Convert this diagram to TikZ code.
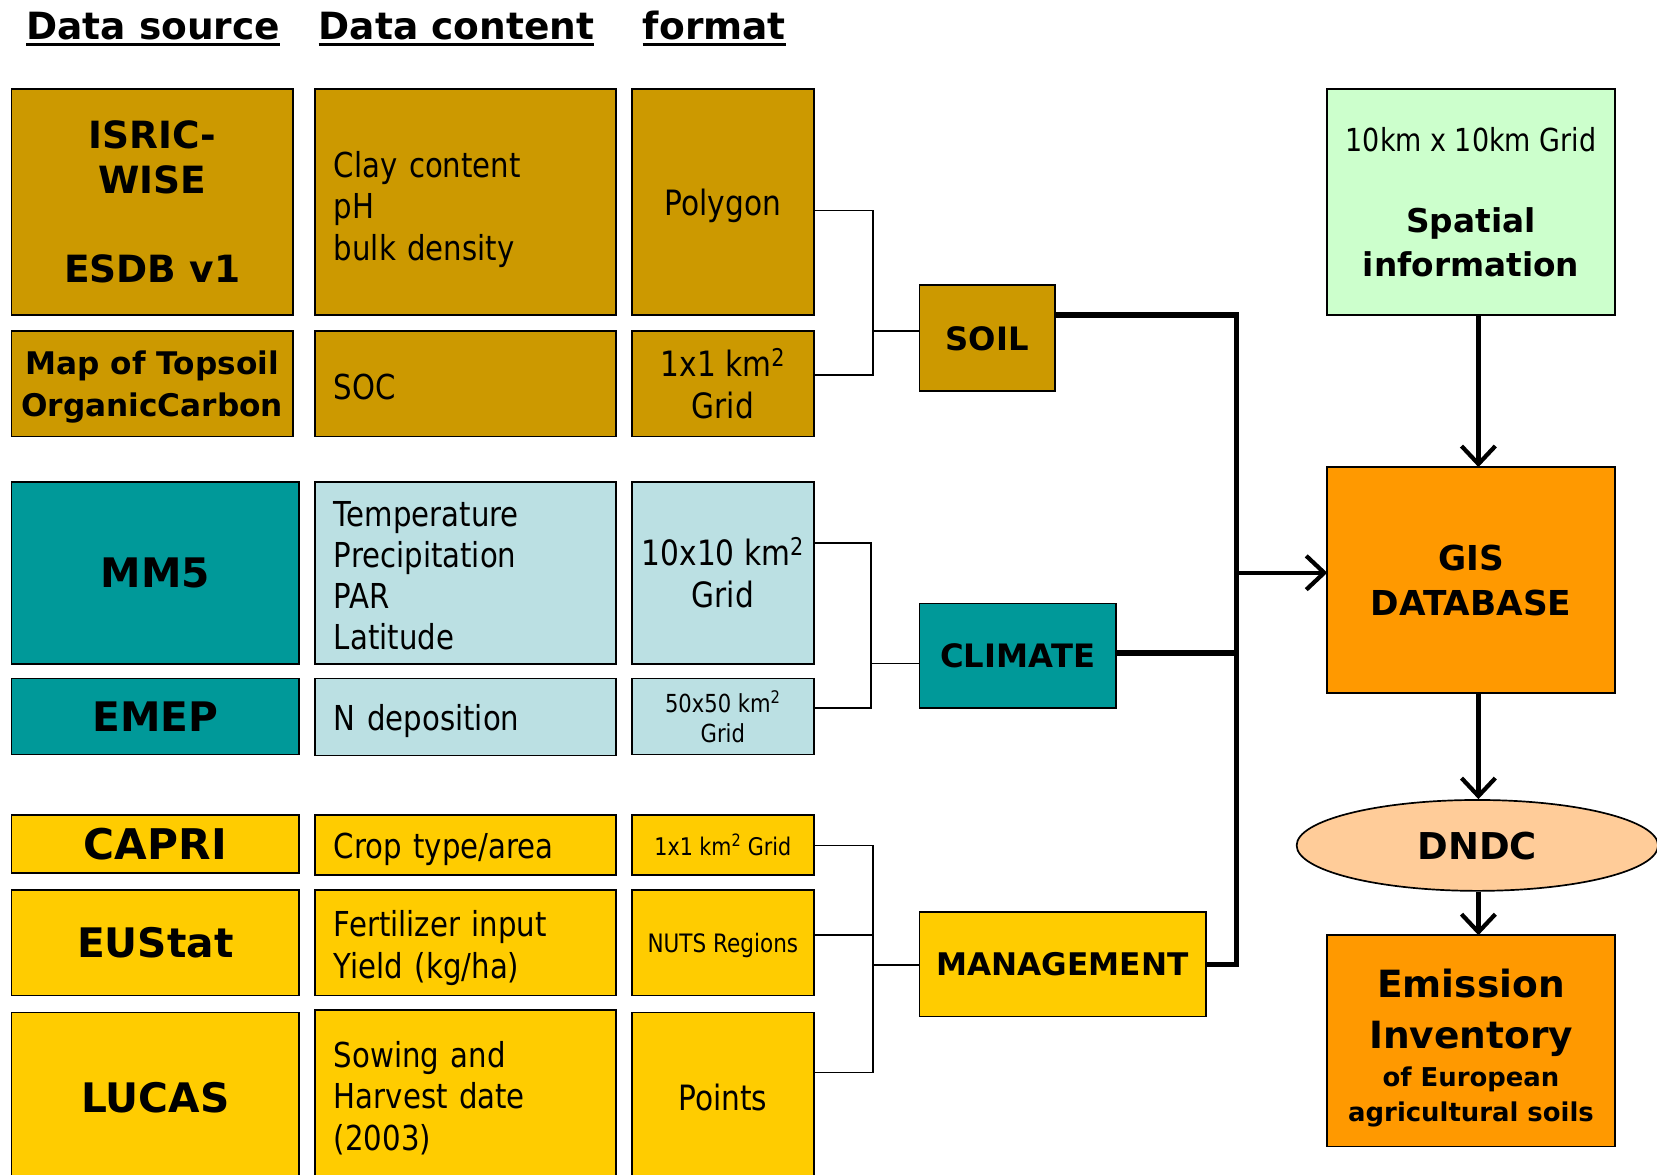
\documentclass[tikz,border=0pt]{standalone}
\usepackage{fontspec}
\setmainfont{DejaVu Sans}
\newfontfamily\rgfam[FakeStretch=0.85]{DejaVu Sans}
\newcommand\rg{\rgfam\mdseries}
\usetikzlibrary{shapes.geometric,arrows.meta}
\definecolor{soilc}{HTML}{CC9900}
\definecolor{tealc}{HTML}{009999}
\definecolor{lblue}{HTML}{BBE0E3}
\definecolor{yell}{HTML}{FFCC00}
\definecolor{lgreen}{HTML}{CCFFCC}
\definecolor{orng}{HTML}{FF9900}
\definecolor{peach}{HTML}{FFCC99}
\newcommand\fs[2]{\fontsize{#1}{#2}\selectfont}
\newcommand\tp[1]{\rule{0pt}{#1pt}}
\newcommand\bxn[7]{\node[box,#6,minimum width={(#4-#2)*1pt},minimum height={(#5-#3)*1pt}] (#1) at ({(#2+#4)/2},{(#3+#5)/2}) {#7};}
\begin{document}
\begin{tikzpicture}[x=1pt,y=-1pt,
  box/.style={draw=black,line width=1.6pt,inner sep=0pt,outer sep=0pt},
  src/.style={align=center,text depth=0pt,font={\bfseries\fs{38.5}{46}}},
  cnt/.style={align=left,text width=249pt,font={\rg\fs{32.5}{39}}},
  fmt/.style={align=center,text depth=0pt,font={\rg\fs{33}{40}}},
  hdr/.style={inner sep=0pt,font={\bfseries\fs{35.5}{42}}},
  uline/.style={line width=2.8pt},
  thinc/.style={line width=1.5pt},
  bus/.style={line width=5pt,line join=miter},
  arr/.style={line width=4pt,-{Straight Barb[length=17pt,width=32pt]}}
]
\useasboundingbox (0,0) rectangle (1568,1111);

% headers
\node[hdr,anchor=base] (h1) at (145,37) {Data source};
\node[hdr,anchor=base] (h2) at (432,37) {Data content};
\node[hdr,anchor=base] (h3) at (676,37) {format};
\foreach \h in {h1,h2,h3}
  \draw[uline] ([yshift=-5pt]\h.base west) -- ([yshift=-5pt]\h.base east);

% soil rows
\bxn{s1}{11}{84}{277}{298}{fill=soilc,align=center,text depth=0pt,font={\bfseries\fs{35.5}{42}}}{ISRIC-\\WISE\\[43pt]ESDB v1}
\bxn{c1}{298}{84}{583}{298}{fill=soilc,cnt}{\tp{39}Clay content\\pH\\bulk density}
\bxn{f1}{598}{84}{770}{298}{fill=soilc,fmt}{Polygon}
\bxn{s2}{11}{313}{277}{413}{fill=soilc,align=center,text depth=0pt,font={\bfseries\fs{29.5}{40}}}{Map of Topsoil\\OrganicCarbon}
\bxn{c2}{298}{313}{583}{413}{fill=soilc,cnt}{\tp{31}SOC}
\bxn{f2}{598}{313}{770}{413}{fill=soilc,fmt}{1x1 km\textsuperscript{2}\\Grid}

% climate rows
\bxn{s3}{11}{456}{283}{628}{fill=tealc,src}{MM5}
\bxn{c3}{298}{456}{583}{628}{fill=lblue,cnt}{\tp{29}Temperature\\Precipitation\\PAR\\Latitude}
\bxn{f3}{598}{456}{770}{628}{fill=lblue,fmt}{10x10 km\textsuperscript{2}\\Grid}
\bxn{s4}{11}{642}{283}{714}{fill=tealc,src}{EMEP}
\bxn{c4}{298}{642}{583}{715}{fill=lblue,cnt}{\tp{33}N deposition}
\bxn{f4}{598}{642}{770}{714}{fill=lblue,align=center,text depth=0pt,font={\rg\fs{23.5}{28}}}{50x50 km\textsuperscript{2}\\Grid}

% management rows
\bxn{s5}{11}{771}{283}{826}{fill=yell,src,font={\bfseries\fs{40}{46}}}{CAPRI}
\bxn{c5}{298}{771}{583}{828}{fill=yell,cnt}{\tp{33}Crop type/area}
\bxn{f5}{598}{771}{770}{828}{fill=yell,align=center,text depth=0pt,font={\rg\fs{23}{28}}}{1x1 km\textsuperscript{2} Grid}
\bxn{s6}{11}{842}{283}{942}{fill=yell,src}{EUStat}
\bxn{c6}{298}{842}{583}{942}{fill=yell,cnt,font={\rg\fs{32.5}{40}}}{\tp{35}Fertilizer input\\Yield (kg/ha)}
\bxn{f6}{598}{842}{770}{942}{fill=yell,align=center,text depth=0pt,font={\rg\fs{24}{28}}}{NUTS Regions}
\bxn{s7}{11}{958}{283}{1118}{fill=yell,src}{LUCAS}
\bxn{c7}{298}{956}{583}{1118}{fill=yell,cnt}{\tp{29}Sowing and\\Harvest date\\(2003)}
\bxn{f7}{598}{958}{770}{1118}{fill=yell,fmt}{Points}

% category boxes
\bxn{soil}{870}{270}{998}{370}{fill=soilc,text depth=0pt,font={\bfseries\fs{30.5}{36}}}{SOIL}
\bxn{clim}{870}{571}{1056}{670}{fill=tealc,text depth=0pt,font={\bfseries\fs{30.5}{36}}}{CLIMATE}
\bxn{mgmt}{870}{863}{1141}{962}{fill=yell,text depth=0pt,font={\bfseries\fs{29.5}{36}}}{MANAGEMENT}

% right column
\bxn{sp}{1256}{84}{1528}{298}{fill=lgreen,align=center,font={\bfseries\fs{31}{41}}}{{\rg\fs{30}{36}10km x 10km Grid}\\[36pt]Spatial\\information}
\bxn{gis}{1256}{442}{1528}{656}{fill=orng,align=center,text depth=0pt,font={\bfseries\fs{32.5}{43}}}{GIS\\DATABASE}
\node[draw=black,line width=1.6pt,ellipse,fill=peach,inner sep=0pt,minimum width=342pt,minimum height=86pt,text depth=0pt,font={\bfseries\fs{35}{40}}] (dndc) at (1398,800) {DNDC};
\bxn{em}{1256}{885}{1528}{1085}{fill=orng,align=center,text depth=0pt,font={\bfseries\fs{35.5}{49}}}{\tp{35}Emission\\Inventory\\[-13pt]{\fs{24.5}{33}of European}\\[-16pt]{\fs{24.5}{33}agricultural soils}}

% junction coordinates
\coordinate (js1) at (826,199);
\coordinate (js2) at (826,355);
\coordinate (js3) at (826,313);
\coordinate (jc1) at (824,514);
\coordinate (jc2) at (824,670);
\coordinate (jc3) at (824,628);
\coordinate (jm1) at (826,800);
\coordinate (jm2) at (826,885);
\coordinate (jm3) at (826,1015);
\coordinate (jm4) at (826,913);
\coordinate (b1) at (1170,298);
\coordinate (b2) at (1170,913);
\coordinate (b3) at (1170,618);
\coordinate (b4) at (1170,542);
\coordinate (ax) at (1399,0);

% thin connectors
\draw[thinc] (f1.east |- js1) -- (js1) -- (js2) -- (f2.east |- js2);
\draw[thinc] (js3) -- (soil.west |- js3);
\draw[thinc] (f3.east |- jc1) -- (jc1) -- (jc2) -- (f4.east |- jc2);
\draw[thinc] (jc3) -- (clim.west |- jc3);
\draw[thinc] (f5.east |- jm1) -- (jm1) -- (jm3) -- (f7.east |- jm3);
\draw[thinc] (f6.east |- jm2) -- (jm2);
\draw[thinc] (jm4) -- (mgmt.west |- jm4);

% bus
\draw[bus] (soil.east |- b1) -- (b1) -- (b2) -- (mgmt.east |- b2);
\draw[bus] (clim.east |- b3) -- (b3);
\draw[arr] (b4) -- (gis.west |- b4);

% vertical arrows
\draw[arr] (sp.south -| ax) -- (gis.north -| ax);
\draw[arr] (gis.south -| ax) -- (dndc.north -| ax);
\draw[arr] (dndc.south -| ax) -- (em.north -| ax);
\end{tikzpicture}
\end{document}
